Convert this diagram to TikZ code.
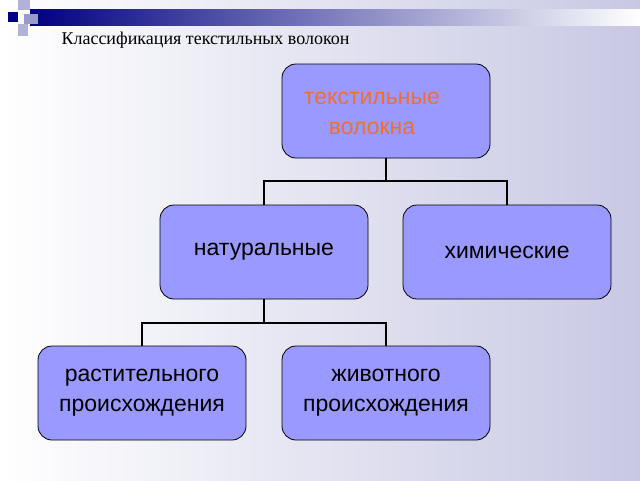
\documentclass[tikz,border=0pt]{standalone}
\usepackage{fontspec}
\setmainfont{Liberation Serif}
\newfontfamily\boxfont{Liberation Sans}
\usetikzlibrary{positioning}
\definecolor{boxblue}{RGB}{153,153,255}
\definecolor{navy}{RGB}{0,0,128}
\definecolor{orangetxt}{RGB}{240,110,50}
\tikzset{
  fibre/.style={draw,line width=0.8pt,rounded corners=14pt,fill=boxblue,minimum width=208pt,minimum height=94pt,align=center,font=\boxfont\fontsize{23}{30}\selectfont},
  link/.style={line width=1.6pt}
}
\begin{document}
\begin{tikzpicture}[x=1pt,y=-1pt]
\useasboundingbox (0,0) rectangle (640,480);
\shade[left color=white,right color={rgb,255:red,200;green,200;blue,228}] (0,0) rectangle (640,480);
% header decoration
\shade[left color=navy,right color=white] (30,9) rectangle (640,25);
\fill[navy] (8,12) rectangle (18,22);
\fill[navy!30] (18,0) rectangle (30,10);
\fill[navy!40] (24,14) rectangle (38,24);
\fill[navy!30] (18,24) rectangle (28,36);
\node[anchor=west,font=\fontsize{18}{22}\selectfont] (title) at (58,40) {Классификация текстильных волокон};

\node[fibre,text=orangetxt] (fibres) at (386,111) {};
\node[text=orangetxt,align=center,font=\boxfont\fontsize{23}{30}\selectfont] (fibrestext) at (372,113) {текстильные\\волокна};
\node[fibre] (natural) at (264,252) {натуральные};
\node[fibre] (chemical) at (507,252) {химические};
\node[fibre] (plant) at (142,393) {растительного\\происхождения};
\node[fibre] (animal) at (386,393) {животного\\происхождения};

\draw[link] (fibres) -- ++(0,70) -| (natural);
\draw[link] (fibres) -- ++(0,70) -| (chemical);
\draw[link] (natural) -- ++(0,71) -| (plant);
\draw[link] (natural) -- ++(0,71) -| (animal);
\end{tikzpicture}
\end{document}
